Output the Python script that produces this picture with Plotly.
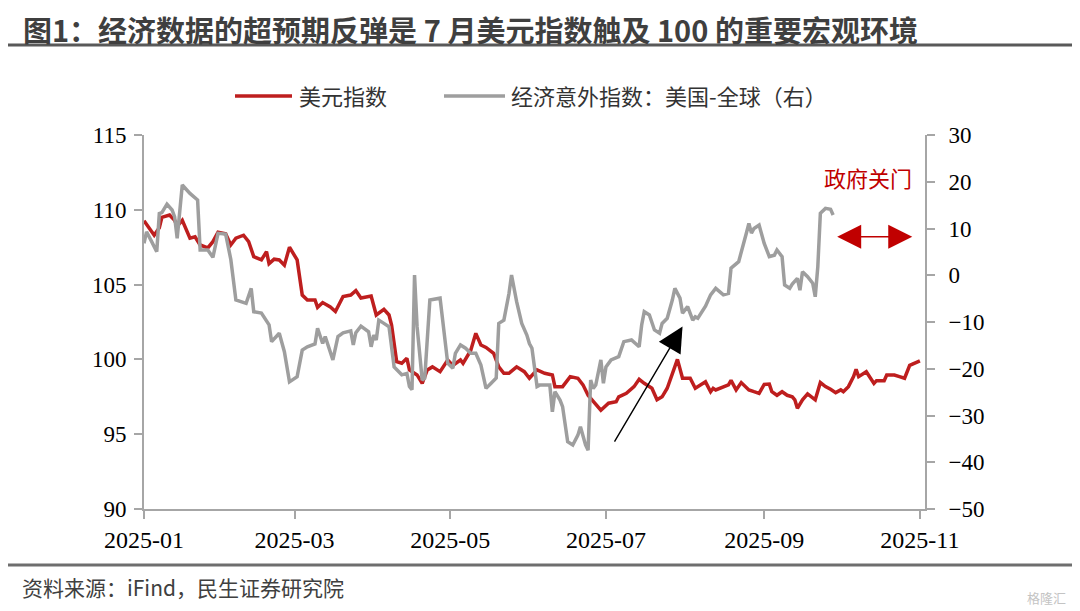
import pandas as pd
import plotly.graph_objects as go

# ---------------- data ----------------
# days counted from 2025-01-01
red_day = [0, 4, 6, 7, 10, 12, 13, 15, 18, 20,
           22, 25, 27, 29, 32, 34, 36, 39, 41, 43,
           46, 48, 49, 51, 53, 55, 57, 60, 62, 64,
           67, 68, 70, 73, 75, 78, 81, 83, 85, 89,
           91, 94, 96, 97, 99, 101, 103, 104, 107, 109,
           111, 113, 116, 119, 121, 124, 125, 128, 130, 132,
           134, 137, 139, 141, 143, 146, 149, 151, 154, 157,
           160, 161, 164, 167, 170, 172, 174, 176, 179, 182,
           185, 186, 189, 192, 194, 196, 199, 201, 203, 205,
           207, 209, 211, 214, 216, 219, 220, 222, 223, 224,
           227, 229, 230, 232, 234, 237, 239, 241, 243, 245,
           246, 248, 250, 252, 254, 255, 256, 258, 260, 262,
           263, 265, 267, 269, 271, 273, 274, 276, 278, 279,
           280, 283, 286, 287, 290, 291, 294, 296, 298, 300,
           302, 304]
red_val = [109.27, 108.3, 108.8, 109.5, 109.65, 109.3, 108.9, 109.3, 108.1, 108.2,
           107.65, 107.45, 107.87, 108.5, 108.4, 107.65, 108.1, 108.3, 107.87, 106.87,
           106.65, 107.2, 106.4, 106.7, 106.65, 106.3, 107.5, 106.65, 104.3, 103.97,
           103.97, 103.48, 103.8, 103.5, 103.2, 104.2, 104.3, 104.6, 104.1, 104.24,
           102.97, 103.35, 102.97, 102.3, 99.85, 99.74, 100.07, 99.3, 98.96, 98.4,
           99.3, 99.5, 99.18, 99.96, 99.6, 99.96, 99.74, 100.6, 101.74, 100.96,
           100.8, 100.4, 99.5, 99.07, 99.07, 99.5, 99.18, 98.74, 99.3, 99.07,
           98.96, 98.18, 98.18, 98.85, 98.74, 98.3, 97.6, 97.17, 96.6, 97.07,
           97.17, 97.5, 97.73, 98.18, 98.67, 98.4, 98.07, 97.3, 97.5, 98.07,
           99.07, 100.0, 98.74, 98.74, 98.07, 98.4, 98.5, 97.84, 98.07, 97.96,
           98.18, 98.3, 98.6, 97.96, 98.45, 97.96, 97.84, 97.73, 98.33, 98.35,
           97.84, 97.6, 97.84, 97.6, 97.5, 97.3, 96.73, 97.3, 97.7, 97.4,
           97.3, 98.45, 98.18, 98.0, 97.78, 97.96, 97.84, 98.18, 98.85, 99.33,
           98.85, 99.18, 98.4, 98.58, 98.58, 98.96, 98.96, 98.85, 98.74, 99.6,
           99.78, 99.9]

gray_day = [0, 1, 3, 5, 6, 7, 9, 11, 12, 13,
            15, 18, 21, 22, 25, 27, 29, 32, 34, 36,
            40, 42, 43, 46, 49, 50, 53, 55, 57, 60,
            62, 64, 67, 68, 70, 71, 74, 76, 78, 81,
            82, 83, 85, 88, 89, 90, 91, 92, 94, 96,
            98, 101, 103, 104, 105, 106, 107, 109, 110, 112,
            116, 119, 121, 122, 124, 126, 128, 130, 132, 134,
            136, 138, 139, 141, 143, 144, 146, 148, 150, 151,
            152, 154, 155, 159, 160, 161, 163, 164, 166, 168,
            170, 171, 173, 174, 175, 176, 177, 179, 180, 181,
            183, 186, 188, 191, 194, 195, 196, 198, 200, 202,
            203, 205, 207, 208, 210, 211, 213, 215, 216, 217,
            220, 222, 224, 227, 229, 230, 233, 235, 236, 237,
            238, 239, 241, 243, 245, 247, 248, 250, 251, 253,
            254, 256, 257, 258, 260, 262, 263, 264, 265, 267,
            269, 270]
gray_val = [6.83, 9.3, 7.2, 5.04, 13.2, 13.4, 15.2, 13.96, 12.5, 7.9,
            19.3, 17.5, 16.1, 5.4, 5.4, 3.84, 8.97, 8.8, 3.4, -5.3,
            -6.0, -2.8, -7.8, -8.1, -10.6, -14.2, -12.4, -16.35, -22.8, -21.7,
            -16.0, -15.3, -14.7, -11.35, -14.6, -13.1, -18.1, -13.1, -12.3, -11.9,
            -14.9, -12.3, -10.9, -12.1, -15.3, -12.8, -13.85, -9.6, -10.3, -11.0,
            -19.6, -21.3, -21.0, -23.8, -24.5, 0.05, -11.0, -22.4, -22.0, -5.3,
            -4.9, -18.8, -19.9, -16.7, -14.9, -15.6, -16.7, -16.7, -19.2, -24.2,
            -23.1, -22.0, -10.3, -9.6, -3.9, 0.05, -5.65, -10.3, -12.8, -14.6,
            -15.6, -23.8, -23.5, -23.5, -29.2, -24.9, -26.7, -28.1, -35.6, -36.3,
            -34.2, -32.4, -36.3, -37.4, -22.4, -24.2, -23.5, -18.1, -23.1, -19.6,
            -18.1, -17.4, -14.2, -13.85, -15.3, -10.6, -7.8, -8.5, -11.7, -12.4,
            -10.3, -9.2, -5.3, -2.8, -4.9, -8.1, -6.7, -9.6, -8.9, -9.2,
            -6.6, -4.2, -2.8, -4.2, -3.9, 1.5, 2.9, 7.5, 9.0, 11.1,
            9.0, 10.0, 10.75, 6.8, 4.0, 4.3, 5.4, 4.0, -2.1, -2.8,
            -1.9, -0.65, -3.2, 0.76, -0.3, -1.7, -4.6, 1.8, 13.25, 14.3,
            14.1, 12.9]

x_tick_vals = ["2025-01-01", "2025-03-01", "2025-05-01", "2025-07-01", "2025-09-01", "2025-11-01"]
x_tick_text = ["2025-01", "2025-03", "2025-05", "2025-07", "2025-09", "2025-11"]
left_ticks = [90, 95, 100, 105, 110, 115]
right_ticks = [-50, -40, -30, -20, -10, 0, 10, 20, 30]

series_names = ["美元指数", "经济意外指数：美国-全球（右）"]
title_text = "图1：经济数据的超预期反弹是 7 月美元指数触及 100 的重要宏观环境"
source_text = "资料来源：iFind，民生证券研究院"
note_text = "政府关门"

# ---------------- build ----------------
base = pd.Timestamp("2025-01-01")
red_dates = [base + pd.Timedelta(days=d) for d in red_day]
gray_dates = [base + pd.Timedelta(days=d) for d in gray_day]

RED = "#BE1E1E"
GRAY = "#9E9E9E"
AXIS = "#A6A6A6"
CJK = "Noto Sans CJK SC"
SERIF = "Liberation Serif"

fig = go.Figure()
fig.add_trace(go.Scatter(x=red_dates, y=red_val, mode="lines", name=series_names[0],
                         line=dict(color=RED, width=3.5), yaxis="y"))
fig.add_trace(go.Scatter(x=gray_dates, y=gray_val, mode="lines", name=series_names[1],
                         line=dict(color=GRAY, width=3.5), yaxis="y2"))

xtickfont = dict(family=SERIF, size=24, color="#000000")
ytickfont = dict(family=SERIF, size=23, color="#000000")

# the page body has an 8px margin: the figure is offset accordingly
fig.update_layout(
    width=1072, height=603, autosize=False,
    margin=dict(l=136, r=155, t=127, b=102),
    paper_bgcolor="white", plot_bgcolor="white",
    showlegend=False,
    xaxis=dict(type="date", range=["2025-01-01", "2025-11-03"],
               tickvals=x_tick_vals, ticktext=x_tick_text,
               ticks="outside", ticklen=8, tickwidth=2, tickcolor=AXIS,
               showline=True, linecolor=AXIS, linewidth=2,
               showgrid=False, zeroline=False, tickfont=xtickfont),
    yaxis=dict(range=[90, 115], tickvals=left_ticks,
               ticks="outside", ticklen=8, tickwidth=2, tickcolor=AXIS,
               ticklabelstandoff=3,
               showline=True, linecolor=AXIS, linewidth=2,
               showgrid=False, zeroline=False, tickfont=ytickfont),
    yaxis2=dict(range=[-50, 30], tickvals=right_ticks, overlaying="y", side="right",
                ticks="outside", ticklen=8, tickwidth=2, tickcolor=AXIS,
                ticklabelstandoff=9,
                showline=True, linecolor=AXIS, linewidth=2,
                showgrid=False, zeroline=False, tickfont=ytickfont),
)

# paper coordinate helpers (plot area on screen: x 144..925 px, y 135..509 px)
def px(xp):
    return (xp - 144) / 781.0

def py(yp):
    return (509 - yp) / 374.0

shapes = [
    # title underline
    dict(type="line", xref="paper", yref="paper", x0=px(3), x1=px(1078), y0=py(45), y1=py(45),
         line=dict(color="#595959", width=3)),
    # footer line
    dict(type="line", xref="paper", yref="paper", x0=px(3), x1=px(1078), y0=py(565), y1=py(565),
         line=dict(color="#6E6E6E", width=3)),
    # legend samples
    dict(type="line", xref="paper", yref="paper", x0=px(235), x1=px(292), y0=py(96), y1=py(96),
         line=dict(color=RED, width=3.5)),
    dict(type="line", xref="paper", yref="paper", x0=px(444), x1=px(505), y0=py(96), y1=py(96),
         line=dict(color=GRAY, width=3.5)),
]
fig.update_layout(shapes=shapes)

annotations = [
    dict(text="<b>" + title_text + "</b>", xref="paper", yref="paper", x=px(21), y=py(29),
         xanchor="left", yanchor="middle", showarrow=False,
         font=dict(family=CJK, size=29, color="#3F3F3F")),
    dict(text=source_text, xref="paper", yref="paper", x=px(20), y=py(587),
         xanchor="left", yanchor="middle", showarrow=False,
         font=dict(family=CJK, size=21, color="#404040")),
    dict(text="格隆汇", xref="paper", yref="paper", x=px(1068), y=py(597),
         xanchor="right", yanchor="middle", showarrow=False,
         font=dict(family=CJK, size=13, color="#C4C4C4")),
    dict(text=series_names[0], xref="paper", yref="paper", x=px(297), y=py(95),
         xanchor="left", yanchor="middle", showarrow=False,
         font=dict(family=CJK, size=22, color="#333333")),
    dict(text=series_names[1], xref="paper", yref="paper", x=px(509), y=py(95),
         xanchor="left", yanchor="middle", showarrow=False,
         font=dict(family=CJK, size=22, color="#333333")),
    dict(text=note_text, xref="paper", yref="paper", x=px(868), y=py(177),
         xanchor="center", yanchor="middle", showarrow=False,
         font=dict(family=CJK, size=22, color="#C00000")),
    # black arrow
    dict(text="", xref="x", yref="y", axref="x", ayref="y",
         x="2025-07-31", y=102.2, ax="2025-07-04", ay=94.4,
         showarrow=True, arrowhead=2, arrowsize=3.6, arrowwidth=1.4, arrowcolor="#000000"),
    # red double arrow (government shutdown)
    dict(text="", xref="x", yref="y", axref="x", ayref="y",
         x="2025-10-29", y=108.2, ax="2025-09-29", ay=108.2,
         showarrow=True, arrowhead=2, startarrowhead=2, arrowside="end+start",
         arrowsize=3.0, startarrowsize=3.0, arrowwidth=1.6, arrowcolor="#C00000"),
]
fig.update_layout(annotations=annotations)

fig.write_html("out.html")
